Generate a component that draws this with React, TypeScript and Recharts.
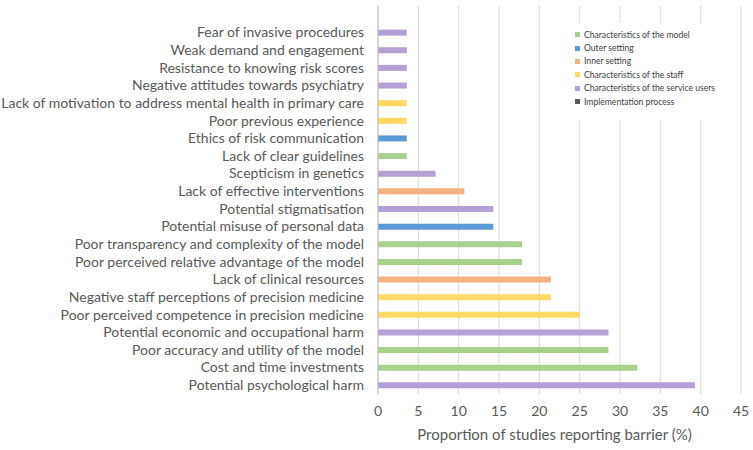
import { BarChart, Bar, XAxis, YAxis, CartesianGrid, Label } from 'recharts';

// rows listed top to bottom; first row is the empty slot above the bars
const barriers = [
  '',
  'Fear of invasive procedures',
  'Weak demand and engagement',
  'Resistance to knowing risk scores',
  'Negative attitudes towards psychiatry',
  'Lack of motivation to address mental health in primary care',
  'Poor previous experience',
  'Ethics of risk communication',
  'Lack of clear guidelines',
  'Scepticism in genetics',
  'Lack of effective interventions',
  'Potential stigmatisation',
  'Potential misuse of personal data',
  'Poor transparency and complexity of the model',
  'Poor perceived relative advantage of the model',
  'Lack of clinical resources',
  'Negative staff perceptions of precision medicine',
  'Poor perceived competence in precision medicine',
  'Potential economic and occupational harm',
  'Poor accuracy and utility of the model',
  'Cost and time investments',
  'Potential psychological harm',
];

const proportions = [
  null, 3.57, 3.57, 3.57, 3.57, 3.57, 3.57, 3.57, 3.57, 7.14, 10.71, 14.29, 14.29,
  17.86, 17.86, 21.43, 21.43, 25, 28.57, 28.57, 32.14, 39.29,
];

const domains = [
  'Characteristics of the model',
  'Outer setting',
  'Inner setting',
  'Characteristics of the staff',
  'Characteristics of the service users',
  'Implementation process',
];

// domain index for each row
const rowDomain = [-1, 4, 4, 4, 4, 3, 3, 1, 0, 4, 2, 4, 1, 0, 0, 2, 3, 3, 4, 0, 0, 4];

const domainColors = ['#a9d18e', '#5b9bd5', '#f4b183', '#ffd966', '#b4a0d6', '#595959'];

const xTicks = [0, 5, 10, 15, 20, 25, 30, 35, 40, 45];

const data = barriers.map((name, i) => {
  const row: Record<string, string | number | null> = { name };
  domains.forEach((d, k) => {
    row[d] = rowDomain[i] === k ? proportions[i] : null;
  });
  return row;
});

const font = 'Lato, "Open Sans", sans-serif';

function BarrierTick(props: any) {
  const { x, y, payload } = props;
  return (
    <text x={x} y={y} dy="0.35em" textAnchor="end" fill="#595959" fontSize={14} fontFamily={font}>
      {payload.value}
    </text>
  );
}

function LegendBox() {
  return (
    <div
      style={{
        position: 'absolute',
        left: 546,
        top: 23,
        width: 188,
        height: 97,
        paddingTop: 5,
        boxSizing: 'border-box',
        background: '#fff',
      }}
    >
      {domains.map((d, k) => (
        <div key={d} style={{ display: 'flex', alignItems: 'center', height: 13.4, paddingLeft: 29 }}>
          <span style={{ width: 5, height: 5, background: domainColors[k], marginRight: 4 }} />
          <span style={{ fontSize: 8.6, color: '#404040', fontFamily: font, whiteSpace: 'nowrap' }}>{d}</span>
        </div>
      ))}
    </div>
  );
}

export default function App() {
  return (
    <div style={{ position: 'absolute', left: 0, top: 0, width: 753, height: 450, background: '#fff' }}>
      <BarChart
        width={753}
        height={450}
        data={data}
        layout="vertical"
        margin={{ top: 6, right: 12, bottom: 6, left: 0 }}
        barCategoryGap={0}
      >
        <CartesianGrid horizontal={false} stroke="#d9d9d9" />
        <XAxis
          type="number"
          domain={[0, 45]}
          ticks={xTicks}
          axisLine={false}
          tickLine={false}
          tickSize={0}
          tickMargin={12}
          height={50}
          tick={{ fill: '#595959', fontSize: 14, fontFamily: font }}
        >
          <Label
            value="Proportion of studies reporting barrier (%)"
            position="insideBottom"
            offset={4}
            dx={-5}
            style={{ fill: '#595959', fontSize: 15, fontFamily: font }}
          />
        </XAxis>
        <YAxis
          type="category"
          dataKey="name"
          width={378}
          interval={0}
          tickLine={false}
          tickSize={0}
          tickMargin={14}
          axisLine={{ stroke: '#bfbfbf' }}
          tick={<BarrierTick />}
        />
        {domains.map((d, k) => (
          <Bar key={d} dataKey={d} stackId="a" fill={domainColors[k]} barSize={6} isAnimationActive={false} />
        ))}
      </BarChart>
      <LegendBox />
    </div>
  );
}
